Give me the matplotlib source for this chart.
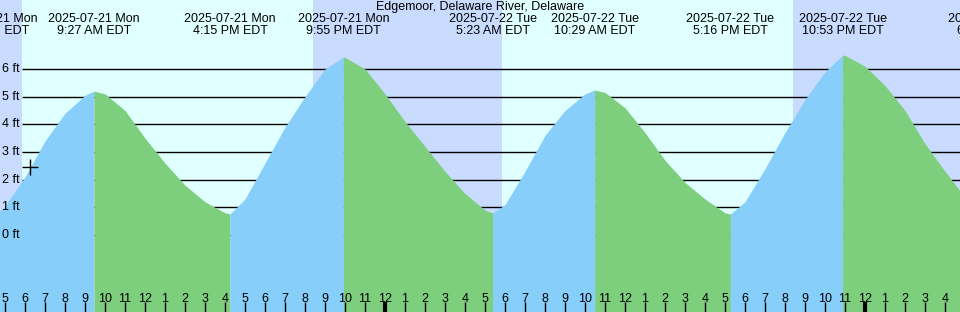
import matplotlib

matplotlib.use("Agg")
import matplotlib.pyplot as plt

plt.rcParams["font.family"] = ["Liberation Sans", "DejaVu Sans"]

title = "Edgemoor, Delaware River, Delaware"

# hours since 2025-07-21 00:00 EDT, water level in ft
hours = [4.35, 4.75, 5, 6, 7, 8, 9, 9.45,
         10, 11, 12, 13, 14, 15, 16, 16.25,
         17, 18, 19, 20, 21, 21.92,
         22, 23, 24, 25, 26, 27, 28, 29, 29.38,
         30, 31, 32, 33, 34, 34.48,
         35, 36, 37, 38, 39, 40, 41, 41.27,
         42, 43, 44, 45, 46, 46.88,
         47, 48, 49, 50, 51, 52, 52.75]
level = [0.8, 0.87, 1.05, 2.1, 3.4, 4.4, 5.05, 5.2,
         5.1, 4.5, 3.5, 2.6, 1.8, 1.2, 0.8, 0.76,
         1.3, 2.6, 3.9, 5.0, 6.0, 6.43,
         6.42, 6.0, 5.1, 4.1, 3.2, 2.3, 1.5, 0.9, 0.8,
         1.1, 2.3, 3.6, 4.5, 5.1, 5.24,
         5.15, 4.6, 3.7, 2.7, 1.9, 1.3, 0.8, 0.76,
         1.2, 2.4, 3.7, 4.9, 5.9, 6.5,
         6.49, 6.1, 5.4, 4.5, 3.3, 2.3, 1.6]

# high / low tide events
event_hours = [4.35, 9.45, 16.25, 21.92, 29.38, 34.48, 41.27, 46.88, 54.45]
event_kind = ["L", "H", "L", "H", "L", "H", "L", "H", "L"]
event_day = ["2025-07-21 Mon", "2025-07-21 Mon", "2025-07-21 Mon", "2025-07-21 Mon",
             "2025-07-22 Tue", "2025-07-22 Tue", "2025-07-22 Tue", "2025-07-22 Tue",
             "2025-07-23 Wed"]
event_time = ["4:21 AM EDT", "9:27 AM EDT", "4:15 PM EDT", "9:55 PM EDT",
              "5:23 AM EDT", "10:29 AM EDT", "5:16 PM EDT", "10:53 PM EDT",
              "6:27 AM EDT"]

# night spans (sunset -> sunrise)
nights = [(4.75, 5.85), (20.4, 29.85), (44.4, 52.75)]

now_hour, now_level = 6.25, 2.46

ft_levels = [0, 1, 2, 3, 4, 5, 6]
tick_hours = list(range(5, 53))

DAY = "#E0FFFF"
NIGHT = "#C9DBFF"
RISE = "#87CEFA"
FALL = "#7DCF7D"

x0, x1 = 4.75, 52.75
px_per_ft = 27.67
y_top = 235 / px_per_ft
y_bot = -(312 - 235) / px_per_ft

fig = plt.figure(figsize=(9.6, 3.12), dpi=100)
ax = fig.add_axes([0, 0, 1, 1])
ax.set_xlim(x0, x1)
ax.set_ylim(y_bot, y_top)
ax.set_facecolor(DAY)
ax.set_axisbelow(False)
for s in ax.spines.values():
    s.set_visible(False)

for a, b in nights:
    ax.axvspan(a, b, color=NIGHT, lw=0, zorder=0)

ax.hlines(ft_levels, 5.85, x1, colors="black", lw=1, zorder=1)

# fill the curve segment by segment, blue rising, green falling
for i in range(len(event_hours) - 1):
    a, b = event_hours[i], event_hours[i + 1]
    seg = [(h, v) for h, v in zip(hours, level) if a <= h <= b]
    if len(seg) < 2:
        continue
    xs = [p[0] for p in seg]
    ys = [p[1] for p in seg]
    color = RISE if event_kind[i] == "L" else FALL
    ax.fill_between(xs, y_bot, ys, color=color, lw=0, zorder=2)

ax.plot([now_hour], [now_level], marker="+", color="black", ms=11, mew=1, zorder=3)

for v in ft_levels:
    ax.text(x0 + 0.12, v, f"{v} ft", ha="left", va="center", fontsize=9, zorder=4)

tr = ax.get_xaxis_transform()
ax.text(0.5, 1 - 7 / 312, title, transform=ax.transAxes, ha="center", va="center",
        fontsize=9)
for h, d, t in zip(event_hours, event_day, event_time):
    ax.text(h, 1 - 19 / 312, d, transform=tr, ha="center", va="center", fontsize=9)
    ax.text(h, 1 - 31 / 312, t, transform=tr, ha="center", va="center", fontsize=9)

ax.set_yticks([])
ax.set_xticks(tick_hours)
ax.set_xticklabels([str((h - 1) % 12 + 1) for h in tick_hours], fontsize=9)
ax.tick_params(axis="x", direction="in", length=7.2, width=1, color="black", pad=-14)
for h, tk in zip(tick_hours, ax.xaxis.get_major_ticks()):
    if h % 24 == 0:
        tk.tick1line.set_markeredgewidth(3)

fig.savefig("out.png", dpi=100)
